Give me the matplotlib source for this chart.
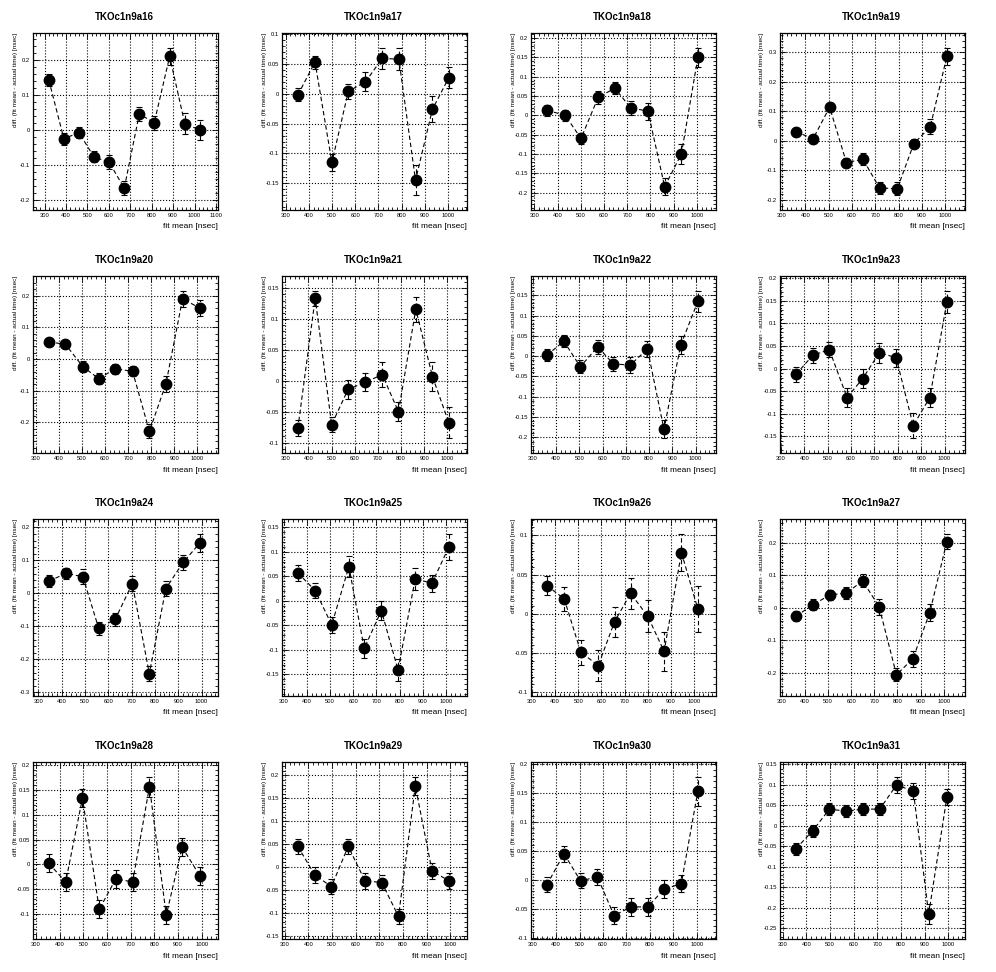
import numpy as np
import matplotlib
matplotlib.use('Agg')
import matplotlib.pyplot as plt
from matplotlib.ticker import MultipleLocator, AutoMinorLocator, FuncFormatter

names = ['TKOc1n9a%d' % i for i in range(16, 32)]

fit_mean = [
    [320, 390, 461, 530, 602, 672, 742, 812, 884, 955, 1025],
    [352, 426, 499, 570, 644, 716, 788, 860, 933, 1004],
    [354, 433, 501, 575, 647, 715, 789, 861, 933, 1004],
    [359, 433, 504, 576, 647, 718, 794, 865, 936, 1007],
    [356, 428, 503, 572, 644, 719, 792, 864, 936, 1011],
    [354, 429, 500, 571, 646, 719, 789, 864, 936, 1007],
    [360, 433, 504, 579, 646, 719, 793, 864, 936, 1010],
    [364, 436, 507, 583, 650, 721, 793, 866, 937, 1010],
    [345, 418, 491, 559, 630, 703, 776, 847, 921, 993],
    [361, 436, 507, 581, 647, 721, 793, 867, 939, 1012],
    [364, 439, 511, 586, 657, 726, 800, 871, 946, 1017],
    [361, 436, 507, 579, 650, 721, 796, 867, 940, 1014],
    [354, 425, 496, 567, 637, 708, 779, 850, 917, 992],
    [355, 426, 497, 568, 639, 710, 781, 852, 923, 994],
    [360, 433, 504, 576, 647, 719, 790, 862, 934, 1005],
    [355, 426, 497, 568, 639, 710, 781, 852, 917, 994],
]

diff = [
    [0.142, -0.025, -0.008, -0.077, -0.093, -0.167, 0.045, 0.021, 0.210, 0.017, 0.0],
    [-0.002, 0.053, -0.115, 0.004, 0.020, 0.059, 0.058, -0.145, -0.026, 0.027],
    [0.013, 0.0, -0.06, 0.047, 0.07, 0.019, 0.011, -0.185, -0.1, 0.15],
    [0.031, 0.007, 0.114, -0.074, -0.063, -0.16, -0.163, -0.01, 0.048, 0.287],
    [0.054, 0.046, -0.024, -0.062, -0.031, -0.039, -0.228, -0.078, 0.19, 0.16],
    [-0.077, 0.134, -0.071, -0.014, -0.002, 0.01, -0.05, 0.116, 0.007, -0.068],
    [0.002, 0.037, -0.026, 0.023, -0.019, -0.022, 0.018, -0.18, 0.027, 0.135],
    [-0.013, 0.029, 0.042, -0.064, -0.022, 0.035, 0.024, -0.126, -0.064, 0.147],
    [0.037, 0.061, 0.051, -0.106, -0.078, 0.03, -0.243, 0.015, 0.094, 0.153],
    [0.057, 0.021, -0.049, 0.07, -0.097, -0.02, -0.141, 0.045, 0.036, 0.11],
    [0.036, 0.019, -0.049, -0.066, -0.01, 0.026, -0.003, -0.048, 0.078, 0.006],
    [-0.026, 0.009, 0.039, 0.045, 0.082, 0.003, -0.206, -0.157, -0.015, 0.203],
    [0.002, -0.035, 0.133, -0.09, -0.029, -0.035, 0.156, -0.102, 0.035, -0.023],
    [0.045, -0.017, -0.043, 0.045, -0.03, -0.034, -0.108, 0.177, -0.009, -0.03],
    [-0.009, 0.045, -0.002, 0.005, -0.062, -0.047, -0.047, -0.016, -0.007, 0.153],
    [-0.056, -0.012, 0.041, 0.036, 0.041, 0.041, 0.1, 0.085, -0.215, 0.07],
]

errors = [
    [0.017, 0.017, 0.016, 0.016, 0.02, 0.02, 0.02, 0.02, 0.025, 0.03, 0.028],
    [0.011, 0.011, 0.014, 0.013, 0.016, 0.018, 0.018, 0.025, 0.022, 0.018],
    [0.015, 0.015, 0.015, 0.017, 0.016, 0.017, 0.022, 0.022, 0.025, 0.025],
    [0.014, 0.014, 0.014, 0.014, 0.02, 0.02, 0.022, 0.016, 0.025, 0.029],
    [0.012, 0.013, 0.017, 0.018, 0.016, 0.016, 0.022, 0.025, 0.025, 0.025],
    [0.013, 0.012, 0.012, 0.016, 0.015, 0.02, 0.015, 0.02, 0.024, 0.025],
    [0.015, 0.015, 0.016, 0.018, 0.017, 0.02, 0.02, 0.022, 0.022, 0.026],
    [0.017, 0.016, 0.016, 0.02, 0.02, 0.022, 0.02, 0.028, 0.022, 0.025],
    [0.018, 0.017, 0.022, 0.02, 0.02, 0.022, 0.023, 0.022, 0.022, 0.028],
    [0.016, 0.016, 0.016, 0.022, 0.02, 0.02, 0.023, 0.023, 0.017, 0.027],
    [0.012, 0.015, 0.016, 0.02, 0.019, 0.02, 0.02, 0.025, 0.024, 0.029],
    [0.016, 0.017, 0.016, 0.018, 0.02, 0.024, 0.02, 0.025, 0.025, 0.024],
    [0.018, 0.018, 0.018, 0.018, 0.018, 0.018, 0.02, 0.018, 0.018, 0.018],
    [0.017, 0.017, 0.017, 0.017, 0.017, 0.017, 0.017, 0.02, 0.017, 0.017],
    [0.013, 0.014, 0.013, 0.014, 0.015, 0.015, 0.015, 0.015, 0.015, 0.025],
    [0.015, 0.015, 0.015, 0.015, 0.015, 0.015, 0.02, 0.02, 0.025, 0.02],
]

y_step = [0.1, 0.05, 0.05, 0.1, 0.1, 0.05, 0.05, 0.05,
          0.1, 0.05, 0.05, 0.1, 0.05, 0.05, 0.05, 0.05]

plt.rcParams['font.family'] = ['Liberation Sans', 'DejaVu Sans']

W, H = 996, 972
PW, PH = 249, 243


def fmt(v, pos):
    v = round(v, 6)
    if v == 0:
        return '0'
    return '%g' % v


fig = plt.figure(figsize=(W / 100, H / 100), dpi=100)

for k, name in enumerate(names):
    col, row = k % 4, k // 4
    x = np.array(fit_mean[k], dtype=float)
    y = np.array(diff[k])
    e = np.array(errors[k])

    ax = fig.add_axes([(col * PW + 33) / W, 1 - (row * PH + 210) / H,
                       185 / W, 177 / H])

    ax.plot(x, y, color='black', lw=0.8, dashes=(4, 2.5))
    _, caps, bars = ax.errorbar(x, y, yerr=e, fmt='o', color='black',
                                ms=7.5, capsize=2, elinewidth=0.8,
                                capthick=0.8)
    bars[0].set_linestyle((0, (4, 2.5)))

    # frame like ROOT: margin around the points
    xs = x.max() - x.min()
    ax.set_xlim(x.min() - 0.105 * xs, x.max() + 0.12 * xs)
    lo, hi = (y - e).min(), (y + e).max()
    ys = hi - lo
    ax.set_ylim(lo - 0.1 * ys, hi + 0.1 * ys)

    ax.xaxis.set_major_locator(MultipleLocator(100))
    ax.xaxis.set_minor_locator(AutoMinorLocator(5))
    ax.yaxis.set_major_locator(MultipleLocator(y_step[k]))
    ax.yaxis.set_minor_locator(AutoMinorLocator(5))
    ax.xaxis.set_major_formatter(FuncFormatter(fmt))
    ax.yaxis.set_major_formatter(FuncFormatter(fmt))
    ax.tick_params(which='both', direction='in', top=True, right=True,
                   labelsize=4.2, width=0.6, pad=2)
    ax.tick_params(which='major', length=4)
    ax.tick_params(which='minor', length=2)
    ax.grid(True, which='major', linestyle=':', color='black', lw=0.8)
    for s in ax.spines.values():
        s.set_linewidth(0.9)

    fig.text((col * PW + 124.5) / W, 1 - (row * PH + 17) / H, name,
             ha='center', va='center', fontsize=7, fontweight='bold')
    fig.text((col * PW + 15) / W, 1 - (row * PH + 33) / H,
             'diff. (fit mean - actual time) [nsec]',
             rotation=90, ha='center', va='top', fontsize=4.6)
    fig.text((col * PW + 218) / W, 1 - (row * PH + 227) / H,
             'fit mean [nsec]', ha='right', va='center', fontsize=6)

fig.savefig('out.png', dpi=100)
